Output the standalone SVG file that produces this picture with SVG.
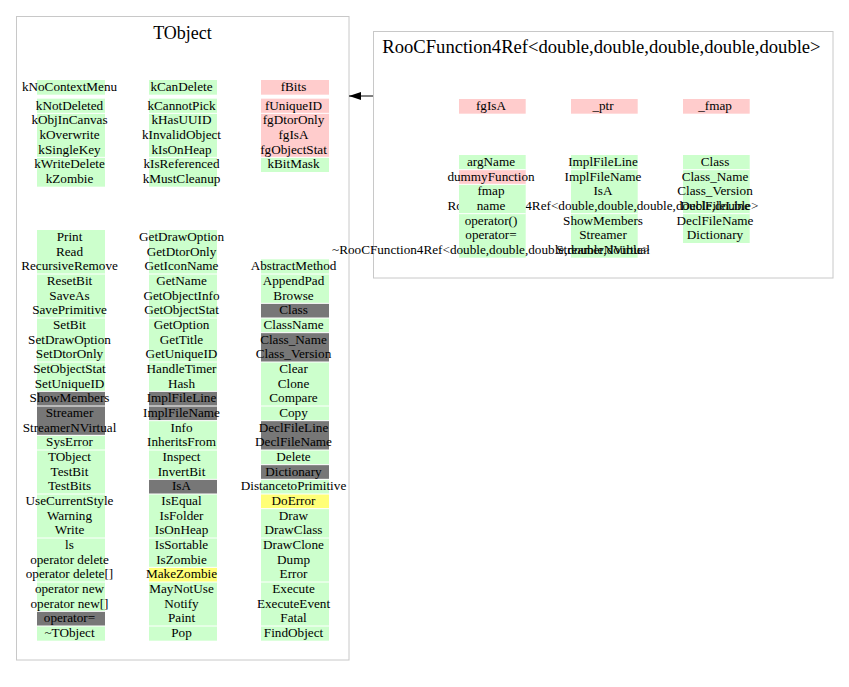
<svg xmlns="http://www.w3.org/2000/svg" width="849" height="687" viewBox="0 0 849 687">
<style>
.box{fill:#fff;stroke:#c8c8c8;stroke-width:1}
.g{fill:#ccffcc}.p{fill:#ffcccc}.d{fill:#777777}.y{fill:#ffff77}
.sep{stroke:#fff;stroke-width:1;fill:none}
.t{font-family:"Liberation Serif","Times New Roman",serif;font-size:13.2px;text-anchor:middle;fill:#000}
.h{font-family:"Liberation Serif","Times New Roman",serif;font-size:18px;text-anchor:middle;fill:#000}
.h2{font-size:18.6px}
.c{stroke:#000;stroke-width:1;fill:none}
</style>
<defs>
<marker id="ah" viewBox="0 0 12 8" refX="12" refY="4" markerWidth="12" markerHeight="8" orient="auto" markerUnits="userSpaceOnUse"><path d="M0,0L12,4L0,8z" fill="#000"/></marker>
</defs>
<rect width="849" height="687" fill="#fff"/>

<g id="TObject">
<rect class="box" x="16.5" y="16.5" width="332.5" height="643.5"/>
<text class="h" x="182.5" y="39">TObject</text>
<rect class="g" x="37" y="80" width="68" height="14.67"/>
<rect class="g" x="37" y="98.67" width="68" height="88"/>
<rect class="g" x="149" y="80" width="68" height="14.67"/>
<rect class="g" x="149" y="98.67" width="68" height="88"/>
<rect class="p" x="261" y="80" width="68" height="14.67"/>
<rect class="p" x="261" y="98.67" width="68" height="58.67"/>
<rect class="g" x="261" y="157.33" width="68" height="14.67"/>
<path class="sep" d="M37,113.33H105M37,157.33H105M149,113.33H217M149,157.33H217M261,113.33H329M261,157.33H329"/>
<text class="t" x="69.5" y="91">kNoContextMenu</text>
<text class="t" x="181.5" y="91">kCanDelete</text>
<text class="t" x="293.5" y="91">fBits</text>
<text class="t" x="69.5" y="109.67">kNotDeleted</text>
<text class="t" x="69.5" y="124.33">kObjInCanvas</text>
<text class="t" x="69.5" y="139">kOverwrite</text>
<text class="t" x="69.5" y="153.67">kSingleKey</text>
<text class="t" x="69.5" y="168.33">kWriteDelete</text>
<text class="t" x="69.5" y="183">kZombie</text>
<text class="t" x="181.5" y="109.67">kCannotPick</text>
<text class="t" x="181.5" y="124.33">kHasUUID</text>
<text class="t" x="181.5" y="139">kInvalidObject</text>
<text class="t" x="181.5" y="153.67">kIsOnHeap</text>
<text class="t" x="181.5" y="168.33">kIsReferenced</text>
<text class="t" x="181.5" y="183">kMustCleanup</text>
<text class="t" x="293.5" y="109.67">fUniqueID</text>
<text class="t" x="293.5" y="124.33">fgDtorOnly</text>
<text class="t" x="293.5" y="139">fgIsA</text>
<text class="t" x="293.5" y="153.67">fgObjectStat</text>
<text class="t" x="293.5" y="168.33">kBitMask</text>
<rect class="g" x="37" y="230" width="68" height="161.33"/>
<rect class="d" x="37" y="391.33" width="68" height="44"/>
<rect class="g" x="37" y="435.33" width="68" height="176"/>
<rect class="d" x="37" y="611.33" width="68" height="14.67"/>
<rect class="g" x="37" y="626" width="68" height="14.67"/>
<rect class="g" x="149" y="230" width="68" height="161.33"/>
<rect class="d" x="149" y="391.33" width="68" height="29.33"/>
<rect class="g" x="149" y="420.67" width="68" height="58.67"/>
<rect class="d" x="149" y="479.33" width="68" height="14.67"/>
<rect class="g" x="149" y="494" width="68" height="73.33"/>
<rect class="y" x="149" y="567.33" width="68" height="14.67"/>
<rect class="g" x="149" y="582" width="68" height="58.67"/>
<rect class="g" x="261" y="259.33" width="68" height="44"/>
<rect class="d" x="261" y="303.33" width="68" height="14.67"/>
<rect class="g" x="261" y="318" width="68" height="14.67"/>
<rect class="d" x="261" y="332.67" width="68" height="29.33"/>
<rect class="g" x="261" y="362" width="68" height="58.67"/>
<rect class="d" x="261" y="420.67" width="68" height="29.33"/>
<rect class="g" x="261" y="450" width="68" height="14.67"/>
<rect class="d" x="261" y="464.67" width="68" height="14.67"/>
<rect class="g" x="261" y="479.33" width="68" height="14.67"/>
<rect class="y" x="261" y="494" width="68" height="14.67"/>
<rect class="g" x="261" y="508.67" width="68" height="132"/>
<path class="sep" d="M37,274H105M37,318H105M37,362H105M37,406H105M37,450H105M37,494H105M37,538H105M37,582H105M37,626H105M37,391.33H105M37,435.33H105M37,611.33H105M149,274H217M149,318H217M149,362H217M149,406H217M149,450H217M149,494H217M149,538H217M149,582H217M149,626H217M149,391.33H217M149,420.67H217M149,479.33H217M149,567.33H217M261,274H329M261,318H329M261,362H329M261,406H329M261,450H329M261,494H329M261,538H329M261,582H329M261,626H329M261,303.33H329M261,332.67H329M261,420.67H329M261,464.67H329M261,479.33H329M261,508.67H329"/>
<text class="t" x="69.5" y="241">Print</text>
<text class="t" x="69.5" y="255.67">Read</text>
<text class="t" x="69.5" y="270.33">RecursiveRemove</text>
<text class="t" x="69.5" y="285">ResetBit</text>
<text class="t" x="69.5" y="299.67">SaveAs</text>
<text class="t" x="69.5" y="314.33">SavePrimitive</text>
<text class="t" x="69.5" y="329">SetBit</text>
<text class="t" x="69.5" y="343.67">SetDrawOption</text>
<text class="t" x="69.5" y="358.33">SetDtorOnly</text>
<text class="t" x="69.5" y="373">SetObjectStat</text>
<text class="t" x="69.5" y="387.67">SetUniqueID</text>
<text class="t" x="69.5" y="402.33">ShowMembers</text>
<text class="t" x="69.5" y="417">Streamer</text>
<text class="t" x="69.5" y="431.67">StreamerNVirtual</text>
<text class="t" x="69.5" y="446.33">SysError</text>
<text class="t" x="69.5" y="461">TObject</text>
<text class="t" x="69.5" y="475.67">TestBit</text>
<text class="t" x="69.5" y="490.33">TestBits</text>
<text class="t" x="69.5" y="505">UseCurrentStyle</text>
<text class="t" x="69.5" y="519.67">Warning</text>
<text class="t" x="69.5" y="534.33">Write</text>
<text class="t" x="69.5" y="549">ls</text>
<text class="t" x="69.5" y="563.67">operator delete</text>
<text class="t" x="69.5" y="578.33">operator delete[]</text>
<text class="t" x="69.5" y="593">operator new</text>
<text class="t" x="69.5" y="607.67">operator new[]</text>
<text class="t" x="69.5" y="622.33">operator=</text>
<text class="t" x="69.5" y="637">~TObject</text>
<text class="t" x="181.5" y="241">GetDrawOption</text>
<text class="t" x="181.5" y="255.67">GetDtorOnly</text>
<text class="t" x="181.5" y="270.33">GetIconName</text>
<text class="t" x="181.5" y="285">GetName</text>
<text class="t" x="181.5" y="299.67">GetObjectInfo</text>
<text class="t" x="181.5" y="314.33">GetObjectStat</text>
<text class="t" x="181.5" y="329">GetOption</text>
<text class="t" x="181.5" y="343.67">GetTitle</text>
<text class="t" x="181.5" y="358.33">GetUniqueID</text>
<text class="t" x="181.5" y="373">HandleTimer</text>
<text class="t" x="181.5" y="387.67">Hash</text>
<text class="t" x="181.5" y="402.33">ImplFileLine</text>
<text class="t" x="181.5" y="417">ImplFileName</text>
<text class="t" x="181.5" y="431.67">Info</text>
<text class="t" x="181.5" y="446.33">InheritsFrom</text>
<text class="t" x="181.5" y="461">Inspect</text>
<text class="t" x="181.5" y="475.67">InvertBit</text>
<text class="t" x="181.5" y="490.33">IsA</text>
<text class="t" x="181.5" y="505">IsEqual</text>
<text class="t" x="181.5" y="519.67">IsFolder</text>
<text class="t" x="181.5" y="534.33">IsOnHeap</text>
<text class="t" x="181.5" y="549">IsSortable</text>
<text class="t" x="181.5" y="563.67">IsZombie</text>
<text class="t" x="181.5" y="578.33">MakeZombie</text>
<text class="t" x="181.5" y="593">MayNotUse</text>
<text class="t" x="181.5" y="607.67">Notify</text>
<text class="t" x="181.5" y="622.33">Paint</text>
<text class="t" x="181.5" y="637">Pop</text>
<text class="t" x="293.5" y="270.33">AbstractMethod</text>
<text class="t" x="293.5" y="285">AppendPad</text>
<text class="t" x="293.5" y="299.67">Browse</text>
<text class="t" x="293.5" y="314.33">Class</text>
<text class="t" x="293.5" y="329">ClassName</text>
<text class="t" x="293.5" y="343.67">Class_Name</text>
<text class="t" x="293.5" y="358.33">Class_Version</text>
<text class="t" x="293.5" y="373">Clear</text>
<text class="t" x="293.5" y="387.67">Clone</text>
<text class="t" x="293.5" y="402.33">Compare</text>
<text class="t" x="293.5" y="417">Copy</text>
<text class="t" x="293.5" y="431.67">DeclFileLine</text>
<text class="t" x="293.5" y="446.33">DeclFileName</text>
<text class="t" x="293.5" y="461">Delete</text>
<text class="t" x="293.5" y="475.67">Dictionary</text>
<text class="t" x="293.5" y="490.33">DistancetoPrimitive</text>
<text class="t" x="293.5" y="505">DoError</text>
<text class="t" x="293.5" y="519.67">Draw</text>
<text class="t" x="293.5" y="534.33">DrawClass</text>
<text class="t" x="293.5" y="549">DrawClone</text>
<text class="t" x="293.5" y="563.67">Dump</text>
<text class="t" x="293.5" y="578.33">Error</text>
<text class="t" x="293.5" y="593">Execute</text>
<text class="t" x="293.5" y="607.67">ExecuteEvent</text>
<text class="t" x="293.5" y="622.33">Fatal</text>
<text class="t" x="293.5" y="637">FindObject</text>
</g>

<g id="RooCFunction4Ref">
<rect class="box" x="373.5" y="31.5" width="459.5" height="246.5"/>
<text class="h h2" x="601.5" y="53">RooCFunction4Ref&lt;double,double,double,double,double&gt;</text>
<rect class="p" x="459" y="99" width="66.7" height="14.67"/>
<rect class="p" x="571" y="99" width="66.7" height="14.67"/>
<rect class="p" x="683" y="99" width="66.7" height="14.67"/>
<text class="t" x="491" y="110">fgIsA</text>
<text class="t" x="603" y="110">_ptr</text>
<text class="t" x="715" y="110">_fmap</text>
<rect class="g" x="683" y="155" width="66.7" height="88"/>
<path class="sep" d="M683,169.67H749.7M683,213.67H749.7"/>
<text class="t" x="715" y="166">Class</text>
<text class="t" x="715" y="180.67">Class_Name</text>
<text class="t" x="715" y="195.33">Class_Version</text>
<text class="t" x="715" y="210">DeclFileLine</text>
<text class="t" x="715" y="224.67">DeclFileName</text>
<text class="t" x="715" y="239.33">Dictionary</text>
<rect class="g" x="571" y="155" width="66.7" height="102.67"/>
<path class="sep" d="M571,169.67H637.7M571,213.67H637.7"/>
<text class="t" x="603" y="166">ImplFileLine</text>
<text class="t" x="603" y="180.67">ImplFileName</text>
<text class="t" x="603" y="195.33">IsA</text>
<text class="t" x="603" y="210">RooCFunction4Ref&lt;double,double,double,double,double&gt;</text>
<text class="t" x="603" y="224.67">ShowMembers</text>
<text class="t" x="603" y="239.33">Streamer</text>
<text class="t" x="603" y="254">StreamerNVirtual</text>
<rect class="g" x="459" y="155" width="66.7" height="14.67"/>
<rect class="p" x="459" y="169.67" width="66.7" height="14.67"/>
<rect class="g" x="459" y="184.33" width="66.7" height="73.33"/>
<path class="sep" d="M459,169.67H525.7M459,184.33H525.7M459,213.67H525.7"/>
<text class="t" x="491" y="166">argName</text>
<text class="t" x="491" y="180.67">dummyFunction</text>
<text class="t" x="491" y="195.33">fmap</text>
<text class="t" x="491" y="210">name</text>
<text class="t" x="491" y="224.67">operator()</text>
<text class="t" x="491" y="239.33">operator=</text>
<text class="t" x="491" y="254">~RooCFunction4Ref&lt;double,double,double,double,double&gt;</text>
</g>

<g id="connectors">
<path class="c" d="M373,96H349" marker-end="url(#ah)"/>
</g>
</svg>
